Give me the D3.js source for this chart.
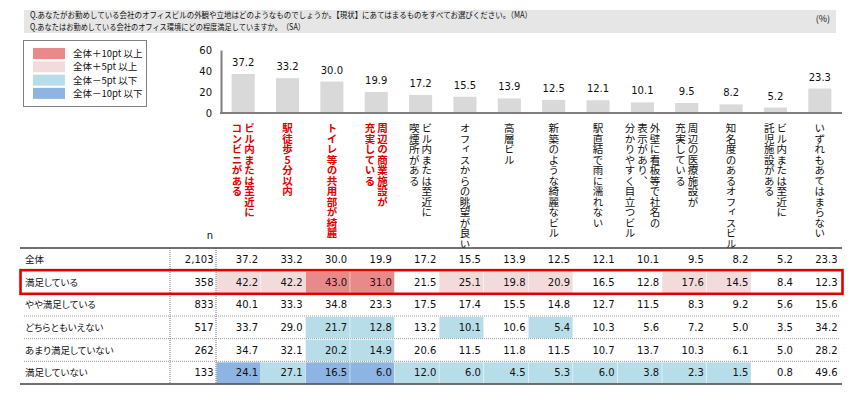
<!DOCTYPE html>
<html><head><meta charset="utf-8">
<script src="https://cdn.jsdelivr.net/npm/d3@7"></script>
<style>
html,body{margin:0;padding:0;background:#fff;}
svg{display:block;}
.jp{font-family:"Noto Sans CJK JP",sans-serif;}
.num{font-family:"DejaVu Sans","Noto Sans CJK JP",sans-serif;}
</style>
</head><body>
<svg id="chart" width="858" height="395"></svg>
<script>
// ---------- data ----------
const questionLines = [
  "Q.あなたがお勤めしている会社のオフィスビルの外観や立地はどのようなものでしょうか。【現状】にあてはまるものをすべてお選びください。（MA）",
  "Q.あなたはお勤めしている会社のオフィス環境にどの程度満足していますか。　（SA）"
];
const categories = [
  ["ビル内または至近に","コンビニがある"],
  ["駅徒歩5分以内"],
  ["トイレ等の共用部が綺麗"],
  ["周辺の商業施設が","充実している"],
  ["ビル内または至近に","喫煙所がある"],
  ["オフィスからの眺望が良い"],
  ["高層ビル"],
  ["新築のような綺麗なビル"],
  ["駅直結で雨に濡れない"],
  ["外壁に看板等で社名の","表示があり、","分かりやすく目立つビル"],
  ["周辺の医療施設が","充実している"],
  ["知名度のあるオフィスビル"],
  ["ビル内または至近に","託児施設がある"],
  ["いずれもあてはまらない"]
];
const highlightedCategories = [0,1,2,3];
const totalValues = [37.2,33.2,30.0,19.9,17.2,15.5,13.9,12.5,12.1,10.1,9.5,8.2,5.2,23.3];
const yTicks = [0,20,40,60];
const rowLabels = ["全体","満足している","やや満足している","どちらともいえない","あまり満足していない","満足していない"];
const rowN = ["2,103","358","833","517","262","133"];
const rowValues = [
  [37.2,33.2,30.0,19.9,17.2,15.5,13.9,12.5,12.1,10.1,9.5,8.2,5.2,23.3],
  [42.2,42.2,43.0,31.0,21.5,25.1,19.8,20.9,16.5,12.8,17.6,14.5,8.4,12.3],
  [40.1,33.3,34.8,23.3,17.5,17.4,15.5,14.8,12.7,11.5,8.3,9.2,5.6,15.6],
  [33.7,29.0,21.7,12.8,13.2,10.1,10.6,5.4,10.3,5.6,7.2,5.0,3.5,34.2],
  [34.7,32.1,20.2,14.9,20.6,11.5,11.8,11.5,10.7,13.7,10.3,6.1,5.0,28.2],
  [24.1,27.1,16.5,6.0,12.0,6.0,4.5,5.3,6.0,3.8,2.3,1.5,0.8,49.6]
];
const legendLabels = ["全体＋10pt 以上","全体＋5pt 以上","全体－5pt 以下","全体－10pt 以下"];
const legendColors = ["#E8898A","#F2DCDB","#B7DEE8","#8DB4E2"];
const boxedRow = 1;

// ---------- drawing ----------
const svg = d3.select("#chart");

// header
svg.append("rect").attr("x",24).attr("y",10).attr("width",812).attr("height",23).attr("fill","#e6e6e6");
const qLens = [502, 275];
questionLines.forEach((t,i)=>{
  svg.append("text").attr("class","jp").attr("x",30).attr("y",18+i*11.5)
    .attr("font-size","8.5px").attr("fill","#111")
    .attr("textLength",qLens[i]).attr("lengthAdjust","spacingAndGlyphs").text(t);
});
svg.append("text").attr("class","jp").attr("x",830).attr("y",21.5).attr("text-anchor","end")
  .attr("font-size","9px").attr("fill","#111").text("(%)");

// legend
const lg = svg.append("g");
lg.append("rect").attr("x",23.5).attr("y",40.5).attr("width",123).attr("height",66)
  .attr("fill","#fff").attr("stroke","#808080");
legendLabels.forEach((l,i)=>{
  const yy = 48 + i*13.3;
  lg.append("rect").attr("x",33).attr("y",yy).attr("width",32).attr("height",11).attr("fill",legendColors[i]);
  lg.append("text").attr("class","jp").attr("x",73).attr("y",yy+9).attr("font-size","9.5px")
    .attr("fill","#111").text(l);
});

// bar chart
const idx = d3.range(categories.length);
const xBar = d3.scaleBand().domain(idx).range([221,842]).paddingInner(0.48).paddingOuter(0.24);
const y = d3.scaleLinear().domain([0,60]).range([113,50]);

svg.append("g").selectAll("rect").data(totalValues).join("rect")
  .attr("x",(d,i)=>xBar(i)).attr("width",xBar.bandwidth())
  .attr("y",d=>y(d)).attr("height",d=>y(0)-y(d)).attr("fill","#d9d9d9");

svg.append("g").selectAll("text").data(totalValues).join("text")
  .attr("class","num").attr("x",(d,i)=>xBar(i)+xBar.bandwidth()/2).attr("y",d=>y(d)-8)
  .attr("text-anchor","middle").attr("font-size","10px").attr("fill","#111")
  .text(d=>d.toFixed(1));

// axes
const yAxis = d3.axisLeft(y).tickValues(yTicks).tickSize(0).tickPadding(9);
const ya = svg.append("g").attr("transform","translate(221,0)").call(yAxis);
ya.select(".domain").attr("stroke","#7f7f7f").attr("stroke-width",2);
ya.selectAll("text").attr("class","num").attr("font-size","10px").attr("fill","#111");
svg.append("line").attr("x1",220).attr("x2",842).attr("y1",y(0)).attr("y2",y(0))
  .attr("stroke","#7f7f7f").attr("stroke-width",2);

// vertical category labels
const lh = 12.5;
const cg = svg.append("g");
categories.forEach((lines,i)=>{
  const cx = xBar(i)+xBar.bandwidth()/2;
  const hl = highlightedCategories.includes(i);
  lines.forEach((ln,k)=>{
    cg.append("text").attr("class","jp")
      .attr("x", cx + (lines.length-1)/2*lh - k*lh).attr("y",123)
      .attr("font-size","10.5px")
      .attr("font-weight", hl ? "bold" : "normal")
      .attr("fill", hl ? "#e00000" : "#111")
      .style("writing-mode","vertical-rl").style("text-orientation","upright")
      .text(ln);
  });
});

// table
const xCol = d3.scaleBand().domain(idx).range([216,840]);
const yRow = d3.scaleBand().domain(d3.range(rowLabels.length)).range([248,384]);
const tg = svg.append("g");

function cls(v,base){
  const d = Math.round((v-base)*10)/10;
  if (d>=10) return legendColors[0];
  if (d>=5) return legendColors[1];
  if (d<=-10) return legendColors[3];
  if (d<=-5) return legendColors[2];
  return null;
}
// cell fills
rowValues.forEach((row,r)=>{
  if (r===0) return;
  row.forEach((v,c)=>{
    if (c===categories.length-1) return;
    const col = cls(v,totalValues[c]);
    if (!col) return;
    tg.append("rect").attr("x",xCol(c)+0.5).attr("y",yRow(r)+1)
      .attr("width",xCol.bandwidth()-0.5).attr("height",yRow.bandwidth()-1.5).attr("fill",col);
  });
});
// row separators
d3.range(1,rowLabels.length).forEach(r=>{
  tg.append("line").attr("x1",24).attr("x2",840).attr("y1",yRow(r)).attr("y2",yRow(r))
    .attr("stroke","#999").attr("stroke-width",1).attr("stroke-dasharray","1,1");
});
// vertical dotted
[170,216].forEach(xv=>{
  tg.append("line").attr("x1",xv).attr("x2",xv).attr("y1",248).attr("y2",384)
    .attr("stroke","#777").attr("stroke-width",1).attr("stroke-dasharray","1,1");
});
// top/bottom rules
[248,384].forEach(yv=>{
  tg.append("line").attr("x1",20).attr("x2",842).attr("y1",yv).attr("y2",yv)
    .attr("stroke","#404040").attr("stroke-width",1.6);
});
// n header
svg.append("text").attr("class","num").attr("x",210).attr("y",239).attr("text-anchor","middle")
  .attr("font-size","10px").attr("fill","#111").text("n");
// texts
rowLabels.forEach((l,r)=>{
  const cy = yRow(r)+yRow.bandwidth()/2+3.5;
  tg.append("text").attr("class","jp").attr("x",25).attr("y",cy).attr("font-size","9.5px")
    .style("font-feature-settings","'palt'").attr("fill","#111").text(l);
  tg.append("text").attr("class","num").attr("x",213.5).attr("y",cy).attr("text-anchor","end")
    .attr("font-size","10px").attr("fill","#111").text(rowN[r]);
  rowValues[r].forEach((v,c)=>{
    tg.append("text").attr("class","num").attr("x",xCol(c)+xCol.bandwidth()-2.5).attr("y",cy)
      .attr("text-anchor","end").attr("font-size","10px").attr("fill","#111").text(v.toFixed(1));
  });
});
// highlight box
tg.append("rect").attr("x",20.5).attr("y",yRow(boxedRow)-0.5).attr("width",822).attr("height",yRow.bandwidth()+1)
  .attr("fill","none").attr("stroke","#e00000").attr("stroke-width",2.6);
</script>
</body></html>
